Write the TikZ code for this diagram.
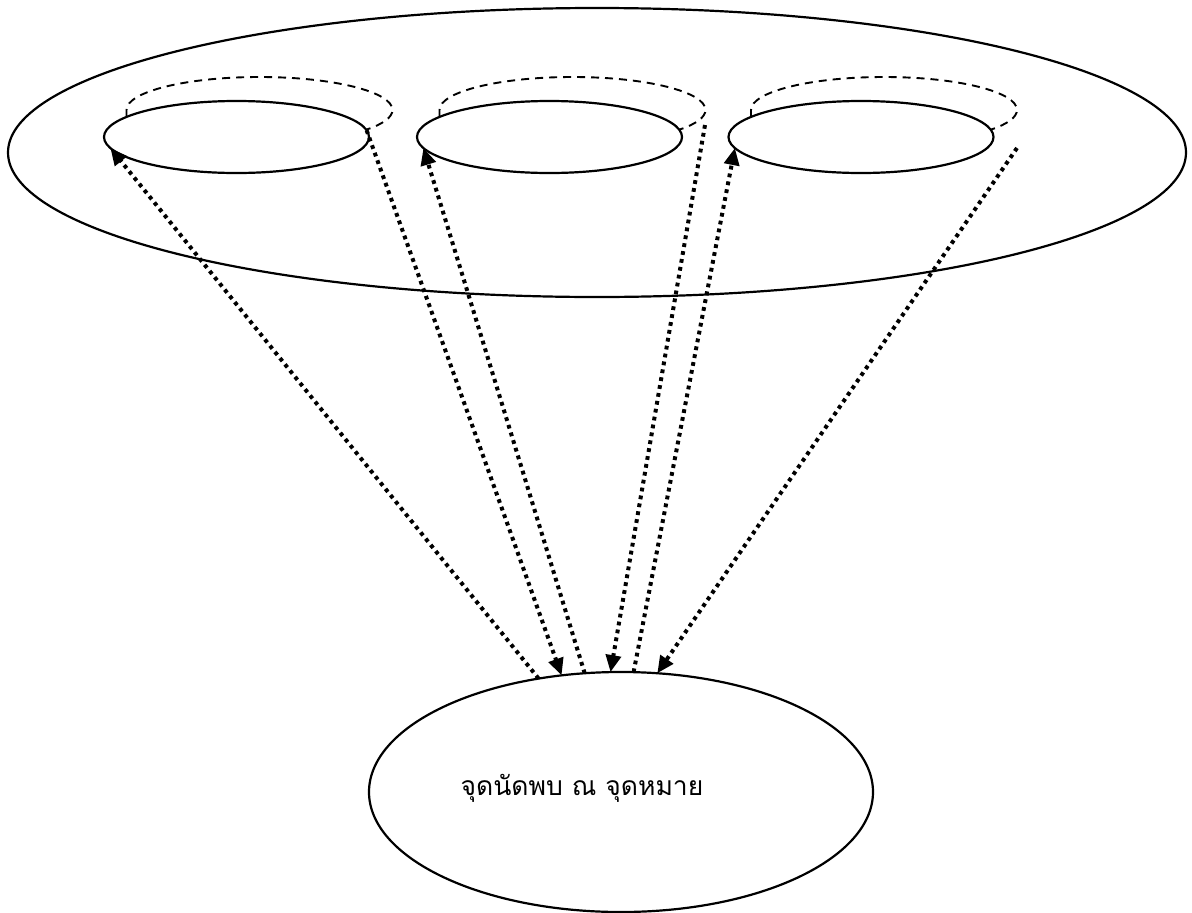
\documentclass[tikz,border=0pt]{standalone}
\usepackage{fontspec}
\newfontfamily\thaifont[Script=Thai]{Loma}
\usetikzlibrary{shapes.geometric,arrows.meta}
\begin{document}
\begin{tikzpicture}[x=1pt,y=-1pt,
  oval/.style={draw, ellipse, line width=2.2pt, inner sep=0pt, outer sep=0pt},
  guide/.style={line width=1.9pt, dash pattern=on 8pt off 6pt},
  flow/.style={line width=4pt, dash pattern=on 3.8pt off 4.2pt, -{Triangle[length=17pt,width=15pt]}}]
\useasboundingbox (0,0) rectangle (1192,913);
% outer region
\node[oval, minimum width=1178pt, minimum height=289pt] (big) at (597,152.5) {};
% three inner ellipses
\node[oval, minimum width=265pt, minimum height=72pt] (e1) at (236.5,137) {};
\node[oval, minimum width=265pt, minimum height=72pt] (e2) at (549.5,137) {};
\node[oval, minimum width=265pt, minimum height=72pt] (e3) at (861,137) {};
% dashed loops
\foreach \cx in {236.5,549.5,861}{
  \draw[guide] (\cx-110,117) -- (\cx-110,110)
    arc[start angle=180, end angle=397, x radius=133, y radius=33];
}
% meeting point
\node[oval, minimum width=504pt, minimum height=240pt] (B) at (621,792) {};
\node[inner sep=0pt] (t) at (582,788) {\fontsize{26.5}{32}\selectfont\thaifont จุดนัดพบ ณ จุดหมาย};
% connectors
\coordinate (s4) at (705,125);
\coordinate (s6) at (1017,148);
\draw[flow] (B.126.8) -- (e1.185);
\draw[flow] (e1.3) -- (B.117);
\draw[flow] (B.107) -- (e2.185);
\draw[flow] (s4) -- (B.95);
\draw[flow] (B.84) -- (e3.185);
\draw[flow] (s6) -- (B.73);
\end{tikzpicture}
\end{document}
